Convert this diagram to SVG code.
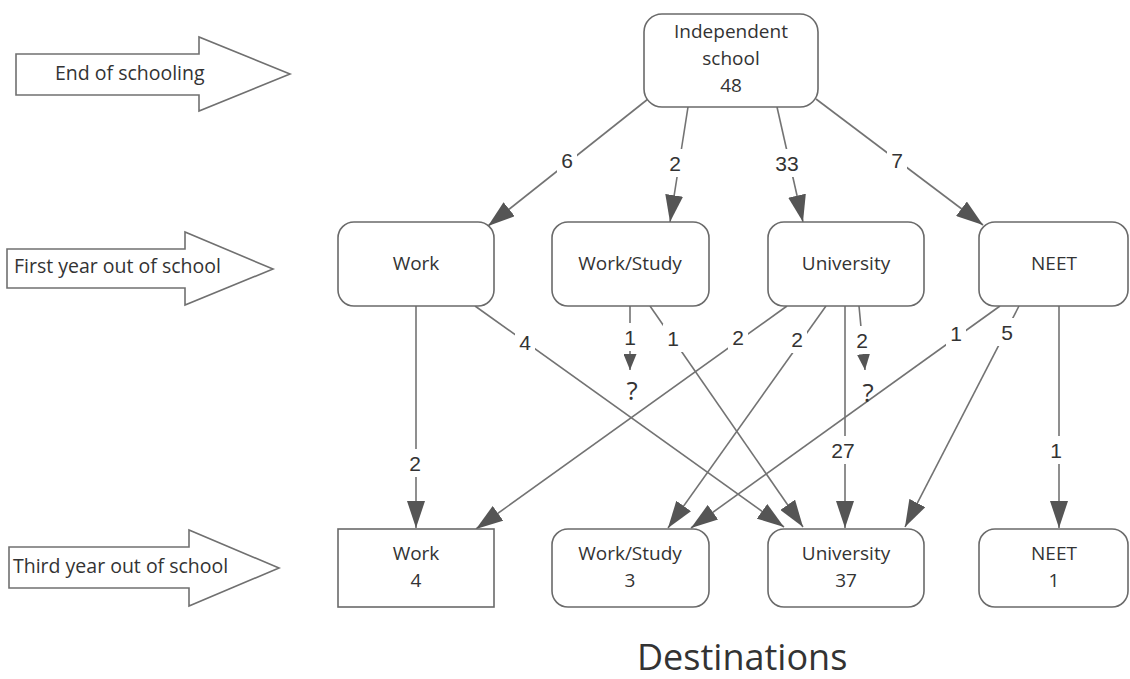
<svg xmlns="http://www.w3.org/2000/svg" width="1130" height="679" viewBox="0 0 1130 679">
<defs>
<marker id="ah" markerUnits="userSpaceOnUse" markerWidth="27" markerHeight="18" refX="27" refY="9" orient="auto"><path d="M0,0 L27,9 L0,18 Z" fill="#555"/></marker>
<marker id="ahs" markerUnits="userSpaceOnUse" markerWidth="16" markerHeight="13" refX="16" refY="6.5" orient="auto"><path d="M0,0 L16,6.5 L0,13 Z" fill="#555"/></marker>
<style>
.box{fill:#fff;stroke:#6a6a6a;stroke-width:1.6}
.blk{fill:#fff;stroke:#707070;stroke-width:1.6}
.t{font-family:"Open Sans","Noto Sans",sans-serif;font-size:19px;fill:#333;text-anchor:middle}
.lt{font-family:"Open Sans","Noto Sans",sans-serif;font-size:19.5px;fill:#333;text-anchor:start}
.c{fill:none;stroke:#737373;stroke-width:1.6}
.lbl{font-family:"Liberation Sans",Arial,sans-serif;font-size:21px;fill:#333;text-anchor:middle}
.q{font-family:"Open Sans","Noto Sans",sans-serif;font-size:26px;fill:#333;text-anchor:middle}
.bg{fill:#fff}
.title{font-family:"Open Sans","Noto Sans",sans-serif;font-size:36px;fill:#333;text-anchor:start}
</style>
</defs>
<rect x="0" y="0" width="1130" height="679" fill="#fff"/>

<g id="stage-arrows">
<g id="arrow-end">
<polygon class="blk" points="16,54 199,54 199,37 290,74 199,111 199,95 16,95"/>
<text class="lt" x="55" y="80">End of schooling</text>
</g>
<g id="arrow-first">
<polygon class="blk" points="7,249 185,249 185,232 273,269 185,305 185,288 7,288"/>
<text class="lt" x="14" y="273">First year out of school</text>
</g>
<g id="arrow-third">
<polygon class="blk" points="9,547 189,547 189,530 279,568 189,606 189,588 9,588"/>
<text class="lt" x="13" y="573">Third year out of school</text>
</g>
</g>

<g id="connectors">
<path class="c" d="M648,99 L488,226" marker-end="url(#ah)"/>
<path class="c" d="M688,107 L670,222" marker-end="url(#ah)"/>
<path class="c" d="M777,107 L803,222" marker-end="url(#ah)"/>
<path class="c" d="M816,99 L983,225" marker-end="url(#ah)"/>
<path class="c" d="M416,306 L416,528" marker-end="url(#ah)"/>
<path class="c" d="M475,306 L784,527" marker-end="url(#ah)"/>
<path class="c" d="M630,306 L630,370" marker-end="url(#ahs)"/>
<path class="c" d="M650,306 L803,527" marker-end="url(#ah)"/>
<path class="c" d="M787,306 L476,529" marker-end="url(#ah)"/>
<path class="c" d="M826,306 L668,528" marker-end="url(#ah)"/>
<path class="c" d="M845,306 L845,528" marker-end="url(#ah)"/>
<path class="c" d="M859,306 L865,370" marker-end="url(#ahs)"/>
<path class="c" d="M1000,306 L691,528" marker-end="url(#ah)"/>
<path class="c" d="M1019,306 L905,527" marker-end="url(#ah)"/>
<path class="c" d="M1059,306 L1059,528" marker-end="url(#ah)"/>
</g>

<g id="connector-labels">
<rect class="bg" x="557" y="146" width="20" height="28"/><text class="lbl" x="567" y="167.5">6</text>
<rect class="bg" x="665" y="149" width="20" height="28"/><text class="lbl" x="675" y="170.5">2</text>
<rect class="bg" x="771" y="149" width="32" height="28"/><text class="lbl" x="787" y="170.5">33</text>
<rect class="bg" x="887" y="146" width="20" height="28"/><text class="lbl" x="897" y="167.5">7</text>
<rect class="bg" x="405" y="449" width="20" height="28"/><text class="lbl" x="415" y="470.5">2</text>
<rect class="bg" x="515" y="328" width="20" height="28"/><text class="lbl" x="525" y="349.5">4</text>
<rect class="bg" x="620" y="323" width="20" height="28"/><text class="lbl" x="630" y="344.5">1</text>
<rect class="bg" x="663" y="324" width="20" height="28"/><text class="lbl" x="673" y="345.5">1</text>
<rect class="bg" x="728" y="323" width="20" height="28"/><text class="lbl" x="738" y="344.5">2</text>
<rect class="bg" x="787" y="325" width="20" height="28"/><text class="lbl" x="797" y="346.5">2</text>
<rect class="bg" x="852" y="326" width="20" height="28"/><text class="lbl" x="862" y="347.5">2</text>
<rect class="bg" x="827" y="436" width="32" height="28"/><text class="lbl" x="843" y="457.5">27</text>
<rect class="bg" x="946" y="319" width="20" height="28"/><text class="lbl" x="956" y="340.5">1</text>
<rect class="bg" x="997" y="318" width="20" height="28"/><text class="lbl" x="1007" y="339.5">5</text>
<rect class="bg" x="1046" y="436" width="20" height="28"/><text class="lbl" x="1056" y="457.5">1</text>
<text class="q" x="632" y="400">?</text>
<text class="q" x="868" y="402">?</text>
</g>

<g id="node-independent">
<rect class="box" x="644" y="14" width="174" height="93" rx="18"/>
<text class="t" x="731" y="38">Independent</text>
<text class="t" x="731" y="65">school</text>
<text class="t" x="731" y="92">48</text>
</g>

<g id="node-work-1">
<rect class="box" x="338" y="222" width="156" height="84" rx="16"/>
<text class="t" x="416" y="270">Work</text>
</g>
<g id="node-workstudy-1">
<rect class="box" x="552" y="222" width="157" height="84" rx="16"/>
<text class="t" x="630" y="270">Work/Study</text>
</g>
<g id="node-university-1">
<rect class="box" x="768" y="222" width="156" height="84" rx="16"/>
<text class="t" x="846" y="270">University</text>
</g>
<g id="node-neet-1">
<rect class="box" x="979" y="222" width="149" height="84" rx="16"/>
<text class="t" x="1054" y="270">NEET</text>
</g>

<g id="node-work-3">
<rect class="box" x="338" y="529" width="156" height="78"/>
<text class="t" x="416" y="560">Work</text>
<text class="t" x="416" y="587">4</text>
</g>
<g id="node-workstudy-3">
<rect class="box" x="552" y="529" width="157" height="78" rx="16"/>
<text class="t" x="630" y="560">Work/Study</text>
<text class="t" x="630" y="587">3</text>
</g>
<g id="node-university-3">
<rect class="box" x="768" y="529" width="156" height="78" rx="16"/>
<text class="t" x="846" y="560">University</text>
<text class="t" x="846" y="587">37</text>
</g>
<g id="node-neet-3">
<rect class="box" x="979" y="529" width="149" height="78" rx="16"/>
<text class="t" x="1054" y="560">NEET</text>
<text class="t" x="1054" y="587">1</text>
</g>

<text class="title" x="637" y="670">Destinations</text>
</svg>
